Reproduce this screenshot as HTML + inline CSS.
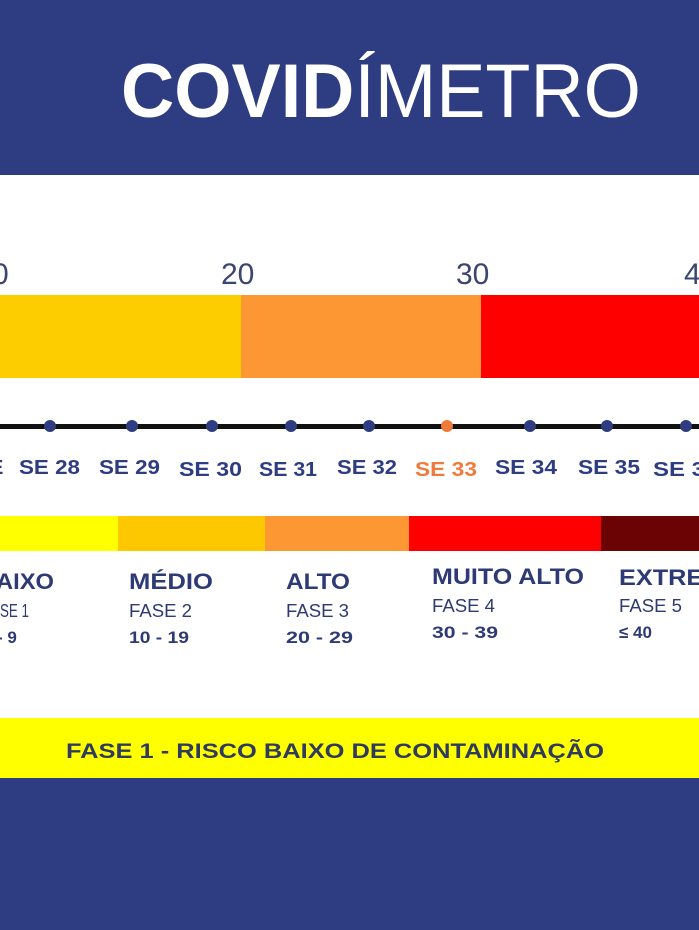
<!DOCTYPE html>
<html><head><meta charset="utf-8"><style>
html,body{margin:0;padding:0;background:#fff;}
svg{display:block;}
text{font-family:"Liberation Sans",sans-serif;}
</style></head><body>
<svg width="699" height="930" viewBox="0 0 699 930" xmlns="http://www.w3.org/2000/svg">
<rect x="0" y="0" width="699" height="175" fill="#2e3d82"/>
<text x="121" y="117" font-size="76" fill="#fff" textLength="520" lengthAdjust="spacingAndGlyphs"><tspan font-weight="bold">COVID</tspan>ÍMETRO</text>
<rect x="0" y="175" width="699" height="543" fill="#fff"/>
<g fill="#3a4570" font-size="30">
<text x="-8" y="284">0</text>
<text x="221" y="284">20</text>
<text x="456" y="284">30</text>
<text x="684" y="284">4</text>
</g>
<rect x="0" y="295" width="241" height="83" fill="#fecd00"/>
<rect x="241" y="295" width="240" height="83" fill="#fd9733"/>
<rect x="481" y="295" width="218" height="83" fill="#fe0000"/>
<rect x="0" y="424" width="699" height="5" fill="#111"/>
<g fill="#2e3d82">
<circle cx="50" cy="426" r="6"/><circle cx="132" cy="426" r="6"/><circle cx="212" cy="426" r="6"/>
<circle cx="291" cy="426" r="6"/><circle cx="369" cy="426" r="6"/>
<circle cx="530" cy="426" r="6"/><circle cx="607" cy="426" r="6"/><circle cx="686" cy="426" r="6"/>
</g>
<circle cx="447" cy="426" r="6" fill="#f07a3a"/>
<g fill="#2e3d82" font-size="20" font-weight="bold">
<text x="-10" y="474">E</text>
<text x="19" y="474" textLength="61" lengthAdjust="spacingAndGlyphs">SE 28</text>
<text x="99" y="474" textLength="61" lengthAdjust="spacingAndGlyphs">SE 29</text>
<text x="179" y="476" textLength="63" lengthAdjust="spacingAndGlyphs">SE 30</text>
<text x="259" y="476" textLength="58" lengthAdjust="spacingAndGlyphs">SE 31</text>
<text x="337" y="474" textLength="60" lengthAdjust="spacingAndGlyphs">SE 32</text>
<text x="495" y="474" textLength="62" lengthAdjust="spacingAndGlyphs">SE 34</text>
<text x="578" y="474" textLength="62" lengthAdjust="spacingAndGlyphs">SE 35</text>
<text x="653" y="476" textLength="52" lengthAdjust="spacingAndGlyphs">SE 3</text>
</g>
<text x="415" y="476" fill="#f07a3a" font-size="20" font-weight="bold" textLength="62" lengthAdjust="spacingAndGlyphs">SE 33</text>
<rect x="0" y="516" width="118" height="35" fill="#ffff00"/>
<rect x="118" y="516" width="147" height="35" fill="#fec800"/>
<rect x="265" y="516" width="144" height="35" fill="#fd9733"/>
<rect x="409" y="516" width="192" height="35" fill="#fe0000"/>
<rect x="601" y="516" width="98" height="35" fill="#6b0203"/>
<g fill="#2e3a75">
<text x="-4" y="589" font-size="22" font-weight="bold" textLength="58" lengthAdjust="spacingAndGlyphs">AIXO</text>
<text x="-9" y="617" font-size="18" textLength="38" lengthAdjust="spacingAndGlyphs">ASE 1</text>
<text x="-3" y="643" font-size="17" font-weight="bold">- 9</text>
<text x="129" y="589" font-size="22" font-weight="bold" textLength="84" lengthAdjust="spacingAndGlyphs">MÉDIO</text>
<text x="129" y="617" font-size="18" textLength="63" lengthAdjust="spacingAndGlyphs">FASE 2</text>
<text x="129" y="643" font-size="17" font-weight="bold" textLength="60" lengthAdjust="spacingAndGlyphs">10 - 19</text>
<text x="286" y="589" font-size="22" font-weight="bold" textLength="64" lengthAdjust="spacingAndGlyphs">ALTO</text>
<text x="286" y="617" font-size="18" textLength="63" lengthAdjust="spacingAndGlyphs">FASE 3</text>
<text x="286" y="643" font-size="17" font-weight="bold" textLength="67" lengthAdjust="spacingAndGlyphs">20 - 29</text>
<text x="432" y="584" font-size="22" font-weight="bold" textLength="152" lengthAdjust="spacingAndGlyphs">MUITO ALTO</text>
<text x="432" y="612" font-size="18" textLength="63" lengthAdjust="spacingAndGlyphs">FASE 4</text>
<text x="432" y="638" font-size="17" font-weight="bold" textLength="66" lengthAdjust="spacingAndGlyphs">30 - 39</text>
<text x="619" y="585" font-size="22" font-weight="bold" textLength="125" lengthAdjust="spacingAndGlyphs">EXTREMO</text>
<text x="619" y="612" font-size="18" textLength="63" lengthAdjust="spacingAndGlyphs">FASE 5</text>
<text x="619" y="638" font-size="17" font-weight="bold">≤ 40</text>
</g>
<rect x="0" y="718" width="699" height="60" fill="#ffff00"/>
<text x="66" y="758" fill="#2e3a5e" font-size="21" font-weight="bold" textLength="538" lengthAdjust="spacingAndGlyphs">FASE 1 - RISCO BAIXO DE CONTAMINAÇÃO</text>
<rect x="0" y="778" width="699" height="152" fill="#2e3d82"/>
</svg>
</body></html>
